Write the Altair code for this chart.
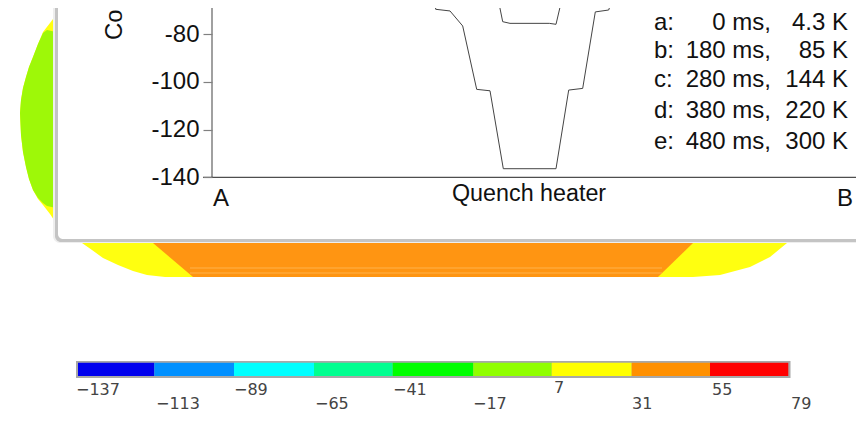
import altair as alt
import pandas as pd

# --- chart values (curve position along A-B, coil value) ---
curve_e_x = [435, 435.7, 450, 462.7, 476.7, 490, 503.3, 556, 568.7, 582.7, 595.3, 608.7, 612]
curve_e_y = [-65.6, -69.5, -70.2, -76.5, -103.1, -103.7, -136.4, -136.4, -103.4, -102.7, -70.6, -69.8, -65.6]
curve_d_x = [498.3, 502.7, 510, 549.3, 556, 561.7]
curve_d_y = [-65.6, -74.7, -75.4, -75.4, -75.8, -65.6]
y_ticks = [-80, -100, -120, -140]

legend_tags = ["a:", "b:", "c:", "d:", "e:"]
legend_times = ["0 ms,", "180 ms,", "280 ms,", "380 ms,", "480 ms,"]
legend_temps = ["4.3 K", "85 K", "144 K", "220 K", "300 K"]
legend_rows = [30, 58, 87, 118, 149]

# --- section outline (across, upper edge, lower edge) ---
sec_x = [20, 21, 23, 26, 29, 33, 38, 43, 50, 56, 82, 92, 103, 118, 133, 147, 165, 193,
         657, 693, 720, 750, 770, 787]
sec_top = [113, 100, 88, 77, 67, 57, 44, 32, 23, 15, 15, 15, 15, 15, 15, 15, 15, 15,
           15, 15, 15, 15, 15, 15]
sec_bot = [113, 135, 152, 167, 179, 190, 199, 205, 214, 223, 243, 250, 258, 265, 271, 275, 277, 277,
           277, 277, 275, 267, 257, 243]

lobe_x = [20, 21, 23, 26, 29, 33, 38, 43, 47, 56]
lobe_top = [113, 100, 88, 77, 67, 57, 44, 33, 30, 32]
lobe_bot = [113, 135, 152, 167, 179, 190, 198, 203, 206, 208]

core_x = [153, 193, 658, 693]
core_top = [236, 236, 236, 236]
core_bot = [243, 277, 277, 243]
core_seams = [268, 273]

# --- colour bar ---
bar_edges = [78, 154.3, 234, 314, 392.7, 473.3, 551.7, 631.7, 710, 788.3]
bar_colors = ["#0000ee", "#0090ff", "#00ffff", "#00ff90", "#00ff00",
              "#90ff00", "#ffff00", "#ff9000", "#ff0000"]
bar_labels = ["\u2212137", "\u2212113", "\u221289", "\u221265", "\u221241", "\u221217", "7", "31", "55", "79"]
bar_label_x = [76, 156, 234, 315, 393, 473, 554, 632, 712, 791]
bar_label_y = [395, 409, 395, 409, 395, 409, 393, 409, 395, 409]

W, H = 848, 434
X = alt.Scale(domain=[8, 856], range=[0, W], nice=False, zero=False)
PY = alt.Scale(domain=[442, 8], range=[H, 0], nice=False, zero=False)
# value axis: -140 at page row 177.3, 2.383 px per unit
VAL = alt.Scale(domain=[-251.08, -68.96], range=[H, 0], nice=False, zero=False)


def px(field):
    return alt.X(field, type="quantitative", scale=X, axis=None)


def py(field):
    return alt.Y(field, type="quantitative", scale=PY, axis=None)


def band(xs, top, bot, color):
    d = pd.DataFrame({"x": xs, "t": top, "b": bot})
    return alt.Chart(d).mark_area(color=color, interpolate="linear", clip=True).encode(
        x=px("x"), y=py("t"), y2="b")


def box(x0, x1, y0, y1, color, radius=0, opacity=1.0):
    d = pd.DataFrame({"x": [x0], "x2": [x1], "y": [y0], "y2": [y1]})
    return alt.Chart(d).mark_rect(color=color, cornerRadius=radius, opacity=opacity, clip=True).encode(
        x=px("x"), x2="x2", y=py("y"), y2="y2")


def label(rows, size, align="left", font="Liberation Sans", color="#111111"):
    d = pd.DataFrame(rows, columns=["x", "y", "t"])
    return alt.Chart(d).mark_text(size=size, align=align, baseline="alphabetic", font=font, color=color).encode(
        x=px("x"), y=py("y"), text="t:N")


layers = []
layers.append(band(sec_x, sec_top, sec_bot, "#ffff10"))
layers.append(band(lobe_x, lobe_top, lobe_bot, "#9ef808"))
layers.append(band(core_x, core_top, core_bot, "#ff9512"))
for s in core_seams:
    layers.append(alt.Chart(pd.DataFrame({"x": [190], "x2": [662], "y": [s]})).mark_rule(
        color="#ffb24a", strokeWidth=1).encode(x=px("x"), x2="x2", y=py("y")))

# panel with soft edge
layers.append(box(53, 960, -20, 243, "#eeeeee", 7))
layers.append(box(55, 960, -20, 242, "#c4c4c4", 6))
layers.append(box(58, 960, -20, 239, "#ffffff", 5))

# colour bar
layers.append(box(76, 790.5, 361, 378, "#a8a8a8"))
for i, c in enumerate(bar_colors):
    layers.append(box(bar_edges[i], bar_edges[i + 1], 362.7, 376, c))
layers.append(label(list(zip(bar_label_x, bar_label_y, bar_labels)),
                    16, font="DejaVu Sans", color="#444444"))

# axis frame
layers.append(alt.Chart(pd.DataFrame({"x": [212], "y": [8], "y2": [177.3]})).mark_rule(
    color="#808080", strokeWidth=1.5).encode(x=px("x"), y=py("y"), y2="y2"))
layers.append(alt.Chart(pd.DataFrame({"x": [203], "x2": [862.7], "y": [177.3]})).mark_rule(
    color="#222222", strokeWidth=1, clip=True).encode(x=px("x"), x2="x2", y=py("y")))

# curves on the value axis
curves = pd.concat([
    pd.DataFrame({"x": curve_e_x, "v": curve_e_y, "s": "e"}),
    pd.DataFrame({"x": curve_d_x, "v": curve_d_y, "s": "d"}),
])
layers.append(alt.Chart(curves).mark_line(color="#444444", strokeWidth=1, clip=True).encode(
    x=px("x"),
    y=alt.Y("v:Q", scale=VAL, axis=alt.Axis(
        values=y_ticks, orient="left", offset=-204, grid=False, domain=False,
        tickSize=9, tickColor="#808080", tickWidth=1.2, labelFontSize=24,
        labelFont="Liberation Sans", labelColor="#111111", labelPadding=4,
        labelBaseline="middle", title=None, labelExpr="'-' + abs(datum.value)",
        zindex=1, labelBound=False, labelFlush=False)),
    detail="s:N"))

# texts
layers.append(label([(213, 206, "A"), (837, 206, "B")], 24))
layers.append(label([(452, 201, "Quench heater")], 23.3))
layers.append(label([(654, y, t) for y, t in zip(legend_rows, legend_tags)], 24))
layers.append(label([(771, y, t) for y, t in zip(legend_rows, legend_times)], 24, align="right"))
layers.append(label([(848, y, t) for y, t in zip(legend_rows, legend_temps)], 24, align="right"))
layers.append(alt.Chart(pd.DataFrame({"x": [122], "y": [40], "t": ["Co"]})).mark_text(
    size=24, angle=270, align="left", baseline="alphabetic", font="Liberation Sans", color="#111111"
).encode(x=px("x"), y=py("y"), text="t:N"))

chart = alt.layer(*layers).resolve_scale(y="independent").properties(
    width=W, height=H, padding=0,
    autosize=alt.AutoSizeParams(type="none"),
    background="#ffffff",
).configure_view(stroke=None)

chart.save("out.html", embed_options={"renderer": "svg", "actions": False})
